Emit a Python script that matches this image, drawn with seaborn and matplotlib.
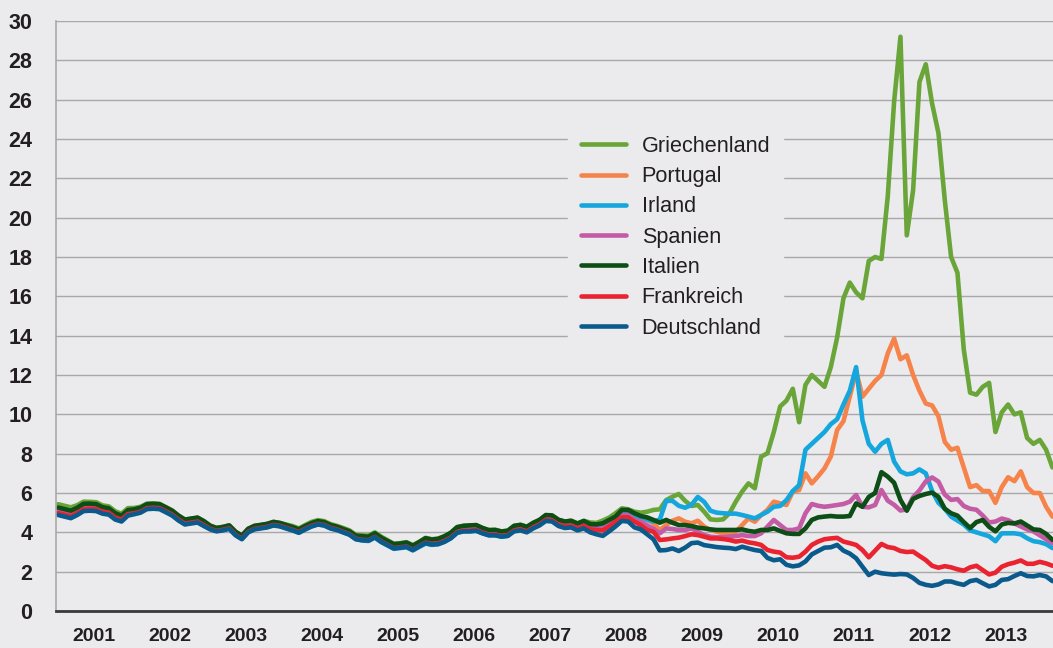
import numpy as np
import pandas as pd
import seaborn as sns
import matplotlib.pyplot as plt

# Rendite 10-jaehriger Staatsanleihen, Monatswerte Jan 2001 - Feb 2014 (in %)
countries = ["Griechenland", "Portugal", "Irland", "Spanien", "Italien", "Frankreich", "Deutschland"]
colors = ["#6aa53a", "#f5834a", "#14a6dc", "#c45ca5", "#0d4d16", "#ea2330", "#0b5a8c"]
years = list(range(2001, 2014))

GR = [5.43, 5.35, 5.27, 5.38, 5.56, 5.55, 5.53, 5.37, 5.32, 5.07, 4.95, 5.23,
      5.24, 5.30, 5.46, 5.47, 5.45, 5.28, 5.11, 4.85, 4.64, 4.69, 4.74, 4.57,
      4.35, 4.23, 4.28, 4.36, 4.03, 3.82, 4.18, 4.33, 4.37, 4.43, 4.53, 4.47,
      4.40, 4.32, 4.20, 4.37, 4.53, 4.62, 4.57, 4.42, 4.33, 4.22, 4.10, 3.87,
      3.85, 3.83, 4.00, 3.78, 3.60, 3.42, 3.45, 3.50, 3.35, 3.52, 3.72, 3.65,
      3.68, 3.80, 3.98, 4.27, 4.33, 4.35, 4.36, 4.22, 4.12, 4.13, 4.05, 4.09,
      4.33, 4.38, 4.28, 4.48, 4.63, 4.87, 4.84, 4.63, 4.55, 4.60, 4.45, 4.58,
      4.50, 4.48, 4.60, 4.75, 4.97, 5.22, 5.17, 5.05, 5.00, 5.05, 5.14, 5.17,
      5.64, 5.81, 5.95, 5.60, 5.34, 5.39, 5.05, 4.66, 4.63, 4.66, 4.97, 5.56,
      6.07, 6.49, 6.24, 7.85, 8.02, 9.10, 10.40, 10.70, 11.30, 9.60, 11.50, 12.00,
      11.70, 11.40, 12.40, 13.90, 15.90, 16.70, 16.20, 15.90, 17.80, 18.00, 17.90, 21.10,
      25.90, 29.20, 19.10, 21.40, 26.90, 27.80, 25.80, 24.30, 20.90, 18.00, 17.20, 13.30,
      11.10, 11.00, 11.40, 11.60, 9.10, 10.10, 10.50, 10.00, 10.10, 8.80, 8.50, 8.70,
      8.20, 7.30]

PT = [5.18, 5.10, 5.02, 5.17, 5.37, 5.39, 5.37, 5.23, 5.18, 4.93, 4.82, 5.10,
      5.12, 5.20, 5.38, 5.40, 5.38, 5.22, 5.05, 4.80, 4.60, 4.65, 4.70, 4.52,
      4.30, 4.20, 4.25, 4.33, 4.00, 3.80, 4.15, 4.30, 4.35, 4.40, 4.50, 4.45,
      4.33, 4.23, 4.11, 4.28, 4.43, 4.53, 4.48, 4.33, 4.25, 4.13, 4.01, 3.78,
      3.75, 3.73, 3.90, 3.67, 3.50, 3.33, 3.37, 3.41, 3.25, 3.43, 3.62, 3.55,
      3.60, 3.72, 3.90, 4.18, 4.25, 4.26, 4.28, 4.15, 4.05, 4.05, 3.98, 4.02,
      4.25, 4.30, 4.20, 4.40, 4.55, 4.78, 4.76, 4.55, 4.45, 4.47, 4.32, 4.43,
      4.35, 4.32, 4.29, 4.54, 4.71, 5.05, 5.00, 4.83, 4.76, 4.63, 4.46, 4.12,
      4.37, 4.59, 4.71, 4.54, 4.46, 4.59, 4.29, 4.12, 4.03, 3.95, 3.86, 4.03,
      4.37, 4.71, 4.54, 4.88, 5.14, 5.56, 5.47, 5.39, 6.07, 6.15, 7.00, 6.49,
      6.85, 7.25, 7.85, 9.20, 9.65, 10.90, 12.20, 10.90, 11.30, 11.70, 12.00, 13.10,
      13.85, 12.80, 13.00, 12.00, 11.20, 10.55, 10.45, 9.90, 8.60, 8.20, 8.30, 7.30,
      6.30, 6.40, 6.10, 6.10, 5.50, 6.30, 6.80, 6.60, 7.10, 6.30, 6.00, 6.00,
      5.30, 4.80]

IE = [5.03, 4.95, 4.87, 5.03, 5.23, 5.25, 5.23, 5.10, 5.05, 4.80, 4.68, 4.97,
      5.02, 5.10, 5.28, 5.30, 5.28, 5.12, 4.95, 4.70, 4.50, 4.55, 4.60, 4.42,
      4.18, 4.08, 4.13, 4.21, 3.88, 3.68, 4.03, 4.18, 4.23, 4.28, 4.38, 4.33,
      4.20, 4.10, 3.98, 4.15, 4.30, 4.40, 4.35, 4.20, 4.12, 4.00, 3.88, 3.65,
      3.58, 3.56, 3.73, 3.50, 3.33, 3.16, 3.20, 3.24, 3.08, 3.26, 3.43, 3.36,
      3.40, 3.52, 3.70, 3.98, 4.05, 4.05, 4.08, 3.95, 3.85, 3.85, 3.78, 3.82,
      4.12, 4.17, 4.07, 4.28, 4.43, 4.66, 4.63, 4.42, 4.33, 4.37, 4.25, 4.37,
      4.25, 4.28, 4.35, 4.55, 4.70, 5.00, 5.00, 4.80, 4.80, 4.65, 4.55, 4.65,
      5.60, 5.60, 5.35, 5.25, 5.40, 5.80, 5.55, 5.10, 5.00, 4.97, 4.95, 4.95,
      4.88, 4.80, 4.71, 4.88, 5.05, 5.30, 5.34, 5.64, 6.10, 6.40, 8.20, 8.50,
      8.80, 9.10, 9.50, 9.75, 10.50, 11.20, 12.40, 9.70, 8.50, 8.10, 8.50, 8.70,
      7.60, 7.10, 6.95, 7.00, 7.20, 7.00, 6.10, 5.50, 5.20, 4.80, 4.60, 4.40,
      4.10, 4.00, 3.90, 3.80, 3.55, 3.95, 3.95, 3.95, 3.90, 3.70, 3.55, 3.50,
      3.40, 3.20]

ES = [5.08, 5.00, 4.92, 5.07, 5.27, 5.28, 5.25, 5.10, 5.05, 4.80, 4.68, 4.97,
      5.00, 5.08, 5.26, 5.28, 5.26, 5.10, 4.93, 4.68, 4.48, 4.53, 4.58, 4.40,
      4.20, 4.10, 4.15, 4.23, 3.90, 3.70, 4.05, 4.20, 4.25, 4.30, 4.40, 4.35,
      4.25, 4.15, 4.03, 4.20, 4.35, 4.45, 4.40, 4.25, 4.17, 4.05, 3.93, 3.70,
      3.64, 3.62, 3.79, 3.56, 3.39, 3.22, 3.26, 3.30, 3.14, 3.32, 3.49, 3.42,
      3.45, 3.57, 3.75, 4.03, 4.10, 4.10, 4.13, 4.00, 3.90, 3.90, 3.83, 3.87,
      4.12, 4.17, 4.08, 4.28, 4.43, 4.66, 4.64, 4.42, 4.33, 4.38, 4.23, 4.35,
      4.20, 4.18, 4.20, 4.38, 4.58, 4.90, 4.88, 4.62, 4.55, 4.35, 4.18, 3.95,
      4.20, 4.17, 4.12, 4.12, 4.20, 4.03, 3.86, 3.78, 3.75, 3.75, 3.78, 3.81,
      3.86, 3.81, 3.81, 3.95, 4.29, 4.63, 4.37, 4.12, 4.12, 4.20, 4.97, 5.44,
      5.35, 5.30, 5.34, 5.39, 5.44, 5.56, 5.90, 5.30, 5.27, 5.39, 6.15, 5.61,
      5.40, 5.11, 5.17, 5.79, 6.13, 6.59, 6.79, 6.58, 5.92, 5.65, 5.69, 5.34,
      5.20, 5.15, 4.85, 4.50, 4.55, 4.70, 4.62, 4.45, 4.30, 4.15, 4.05, 3.85,
      3.65, 3.45]

IT = [5.26, 5.18, 5.10, 5.25, 5.45, 5.46, 5.43, 5.28, 5.22, 4.97, 4.85, 5.13,
      5.17, 5.25, 5.43, 5.45, 5.43, 5.27, 5.10, 4.85, 4.65, 4.70, 4.75, 4.57,
      4.33, 4.22, 4.27, 4.35, 4.03, 3.83, 4.18, 4.33, 4.38, 4.43, 4.53, 4.48,
      4.37, 4.27, 4.15, 4.32, 4.47, 4.57, 4.52, 4.37, 4.29, 4.17, 4.05, 3.83,
      3.80, 3.78, 3.95, 3.73, 3.56, 3.40, 3.43, 3.48, 3.32, 3.50, 3.70, 3.63,
      3.67, 3.80, 3.98, 4.26, 4.33, 4.35, 4.37, 4.22, 4.11, 4.12, 4.04, 4.08,
      4.33, 4.38, 4.28, 4.48, 4.63, 4.88, 4.86, 4.64, 4.55, 4.58, 4.45, 4.58,
      4.42, 4.40, 4.46, 4.63, 4.80, 5.14, 5.14, 4.97, 4.83, 4.76, 4.63, 4.49,
      4.63, 4.49, 4.37, 4.37, 4.32, 4.24, 4.20, 4.15, 4.12, 4.12, 4.12, 4.12,
      4.15, 4.07, 4.03, 4.12, 4.12, 4.20, 4.07, 3.95, 3.92, 3.92, 4.20, 4.63,
      4.76, 4.80, 4.83, 4.80, 4.80, 4.83, 5.47, 5.30, 5.80, 6.00, 7.06, 6.83,
      6.52, 5.65, 5.10, 5.70, 5.85, 5.95, 6.02, 5.80, 5.20, 4.97, 4.85, 4.52,
      4.22, 4.52, 4.63, 4.28, 4.05, 4.40, 4.48, 4.45, 4.55, 4.35, 4.15, 4.12,
      3.92, 3.62]

FR = [4.98, 4.90, 4.82, 4.98, 5.18, 5.20, 5.18, 5.05, 5.00, 4.75, 4.65, 4.93,
      4.97, 5.05, 5.23, 5.25, 5.23, 5.07, 4.90, 4.65, 4.45, 4.50, 4.55, 4.37,
      4.18, 4.08, 4.13, 4.21, 3.88, 3.68, 4.03, 4.18, 4.23, 4.28, 4.38, 4.33,
      4.23, 4.13, 4.01, 4.18, 4.33, 4.43, 4.38, 4.23, 4.15, 4.03, 3.91, 3.68,
      3.62, 3.60, 3.77, 3.54, 3.37, 3.20, 3.24, 3.28, 3.12, 3.30, 3.48, 3.41,
      3.44, 3.56, 3.74, 4.02, 4.09, 4.09, 4.12, 3.99, 3.89, 3.89, 3.82, 3.86,
      4.10, 4.15, 4.05, 4.26, 4.41, 4.64, 4.61, 4.40, 4.32, 4.35, 4.20, 4.33,
      4.15, 4.12, 4.10, 4.30, 4.54, 4.76, 4.76, 4.54, 4.37, 4.12, 4.03, 3.61,
      3.64, 3.69, 3.73, 3.81, 3.90, 3.86, 3.78, 3.69, 3.69, 3.66, 3.61, 3.53,
      3.58, 3.49, 3.44, 3.36, 3.10, 3.02, 2.97, 2.73, 2.71, 2.76, 3.02, 3.36,
      3.53, 3.65, 3.69, 3.72, 3.53, 3.45, 3.36, 3.10, 2.73, 3.07, 3.41, 3.25,
      3.20, 3.05, 3.00, 3.02, 2.80, 2.59, 2.30, 2.20, 2.28, 2.22, 2.12, 2.05,
      2.22, 2.30, 2.08, 1.86, 1.95, 2.25, 2.38, 2.46, 2.57, 2.40, 2.40, 2.50,
      2.42, 2.30]

DE = [4.88, 4.80, 4.72, 4.88, 5.08, 5.10, 5.08, 4.95, 4.90, 4.65, 4.55, 4.85,
      4.92, 5.00, 5.18, 5.20, 5.18, 5.02, 4.85, 4.60, 4.40, 4.45, 4.50, 4.32,
      4.15, 4.05, 4.10, 4.18, 3.85, 3.65, 4.00, 4.15, 4.20, 4.25, 4.35, 4.30,
      4.20, 4.10, 3.98, 4.15, 4.30, 4.40, 4.35, 4.20, 4.12, 4.00, 3.88, 3.65,
      3.60, 3.58, 3.75, 3.52, 3.35, 3.18, 3.22, 3.26, 3.10, 3.28, 3.45, 3.38,
      3.40, 3.52, 3.70, 3.98, 4.05, 4.05, 4.08, 3.95, 3.85, 3.85, 3.78, 3.82,
      4.05, 4.10, 4.00, 4.20, 4.35, 4.58, 4.55, 4.32, 4.22, 4.25, 4.10, 4.20,
      4.00, 3.90, 3.82, 4.05, 4.30, 4.58, 4.55, 4.25, 4.15, 3.90, 3.65, 3.08,
      3.10, 3.18, 3.05, 3.22, 3.45, 3.48, 3.35, 3.30, 3.25, 3.22, 3.20, 3.15,
      3.27, 3.18, 3.10, 3.05, 2.70, 2.58, 2.63, 2.35, 2.27, 2.32, 2.52, 2.88,
      3.05, 3.22, 3.24, 3.36, 3.07, 2.92, 2.68, 2.25, 1.83, 2.00, 1.92, 1.88,
      1.85, 1.88, 1.86, 1.68, 1.43, 1.33, 1.28, 1.35, 1.50, 1.50, 1.40, 1.33,
      1.52, 1.58, 1.41, 1.25, 1.33, 1.58, 1.62, 1.78, 1.92, 1.78, 1.76, 1.83,
      1.76, 1.52]

series = [GR, PT, IE, ES, IT, FR, DE]

# Monatswerte etwa zur Monatsmitte
months = np.arange(len(DE))
x = 2001 + (months + 0.35) / 12

frames = []
for name, vals in zip(countries, series):
    frames.append(pd.DataFrame({"Jahr": x, "Rendite": vals, "Land": name}))
df = pd.concat(frames, ignore_index=True)

BG = "#ebebed"
GRID = "#a8a8a8"
TXT = "#231f20"

sns.set_style("white")
plt.rcParams["font.family"] = ["Liberation Sans", "DejaVu Sans"]

fig = plt.figure(figsize=(10.53, 6.48), dpi=100, facecolor=BG)
ax = fig.add_axes([56 / 1053, 37 / 648, 997 / 1053, 590 / 648])
ax.set_facecolor(BG)

sns.lineplot(data=df, x="Jahr", y="Rendite", hue="Land", hue_order=countries,
             palette=colors, linewidth=3.3, errorbar=None, sort=False, ax=ax,
             solid_capstyle="round", solid_joinstyle="round")

ax.set_xlim(2001, 2014.12)
ax.set_ylim(0, 30)
ax.set_xlabel("")
ax.set_ylabel("")

# y axis
ax.set_yticks(range(0, 31, 2))
ax.yaxis.grid(True, color=GRID, linewidth=1.0)
ax.xaxis.grid(False)
ax.set_axisbelow(True)
ax.tick_params(axis="y", length=7, width=1.0, color=GRID, pad=10,
               labelsize=15.5, labelcolor=TXT)
for lab in ax.get_yticklabels():
    lab.set_fontweight("bold")

# x axis: year separators + month ticks, labels centered in each year
ax.set_xticks(range(2001, 2015))
ax.set_xticklabels([])
ax.set_xticks([2001 + k / 12 for k in range(1, 158) if k % 12], minor=True)
ax.tick_params(axis="x", which="major", length=19, width=1.3, color=GRID, direction="out")
ax.tick_params(axis="x", which="minor", length=8, width=0.9, color=GRID, direction="out")

sec = ax.secondary_xaxis("bottom")
sec.set_xticks([y + 0.5 for y in years], labels=[str(y) for y in years])
sec.tick_params(length=0, pad=12.5, labelsize=14, labelcolor=TXT)
sec.spines["bottom"].set_visible(False)
for lab in sec.get_xticklabels():
    lab.set_fontweight("bold")

for s in ["top", "right"]:
    ax.spines[s].set_visible(False)
ax.spines["left"].set_color(GRID)
ax.spines["left"].set_linewidth(1.2)
ax.spines["bottom"].set_color("#3a3a3a")
ax.spines["bottom"].set_linewidth(2.0)

# legend
handles, labels = ax.get_legend_handles_labels()
leg = ax.legend(handles, labels, loc="upper left", bbox_to_anchor=(0.5135, 0.8275),
                frameon=True, facecolor=BG, edgecolor=BG, framealpha=1,
                fontsize=15.6, handlelength=2.1, handletextpad=0.7,
                labelspacing=0.43, borderpad=0.6, borderaxespad=0)
for h in leg.get_lines():
    h.set_linewidth(3.3)
    h.set_solid_capstyle("round")
for t in leg.get_texts():
    t.set_color(TXT)

fig.savefig("out.png", dpi=100, facecolor=BG)
